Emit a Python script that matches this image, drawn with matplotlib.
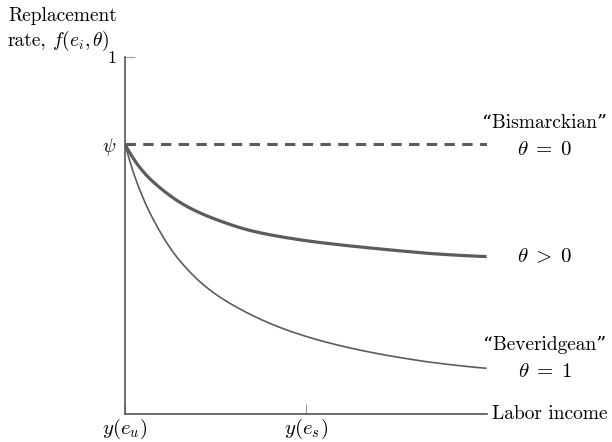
import matplotlib
matplotlib.use("Agg")
import matplotlib.pyplot as plt
import numpy as np

plt.rcParams['mathtext.fontset'] = 'cm'
plt.rcParams['font.family'] = ['cmr10', 'DejaVu Serif']
plt.rcParams['axes.unicode_minus'] = False

# Data (normalized labor income on x, replacement rate on y)
psi = 0.755
bism_x = [0.0, 1.0]
bism_y = [psi, psi]

mid_x = [0.0, 0.039, 0.078, 0.170, 0.262, 0.354, 0.483, 0.575, 0.668, 0.760, 0.851, 0.999]
mid_y = [0.755, 0.693, 0.650, 0.582, 0.541, 0.512, 0.488, 0.476, 0.466, 0.457, 0.449, 0.441]

bev_x = [0.0, 0.032, 0.078, 0.146, 0.235, 0.327, 0.419, 0.511, 0.576, 0.668, 0.760, 0.852, 0.999]
bev_y = [0.755, 0.651, 0.545, 0.436, 0.347, 0.289, 0.246, 0.214, 0.196, 0.175, 0.158, 0.144, 0.128]

ytick_vals = [psi, 1.0]
ytick_labels = [r'$\psi$', '1']
xtick_vals = [0.0, 0.5]
xtick_labels = [r'$y(e_u)$', r'$y(e_s)$']


def pchip(x, y, n=400):
    """Monotone cubic (Fritsch-Carlson) curve through the read points, for smooth drawing."""
    x = np.asarray(x, float)
    y = np.asarray(y, float)
    h = np.diff(x)
    d = np.diff(y) / h
    m = np.zeros_like(y)
    for k in range(1, len(x) - 1):
        if d[k - 1] * d[k] > 0:
            w1 = 2 * h[k] + h[k - 1]
            w2 = h[k] + 2 * h[k - 1]
            m[k] = (w1 + w2) / (w1 / d[k - 1] + w2 / d[k])
    m[0] = ((2 * h[0] + h[1]) * d[0] - h[0] * d[1]) / (h[0] + h[1])
    if np.sign(m[0]) != np.sign(d[0]):
        m[0] = 0
    m[-1] = ((2 * h[-1] + h[-2]) * d[-1] - h[-1] * d[-2]) / (h[-1] + h[-2])
    if np.sign(m[-1]) != np.sign(d[-1]):
        m[-1] = 0
    xs = np.linspace(x[0], x[-1], n)
    idx = np.clip(np.searchsorted(x, xs) - 1, 0, len(x) - 2)
    t = (xs - x[idx]) / h[idx]
    h00 = 2 * t**3 - 3 * t**2 + 1
    h10 = t**3 - 2 * t**2 + t
    h01 = -2 * t**3 + 3 * t**2
    h11 = t**3 - t**2
    ys = h00 * y[idx] + h10 * h[idx] * m[idx] + h01 * y[idx + 1] + h11 * h[idx] * m[idx + 1]
    return xs, ys


W, H = 612, 442
fig = plt.figure(figsize=(W / 100, H / 100), dpi=100)
ax = fig.add_axes([125 / W, 1 - 414 / H, 362 / W, 357 / H])
ax.set_xlim(0, 1)
ax.set_ylim(0, 1)

col = '#5c5c5c'
ax.plot(bism_x, bism_y, color=col, lw=2.2, dashes=(3.4, 2.4), solid_capstyle='butt')
mx, my = pchip(mid_x, mid_y)
ax.plot(mx, my, color=col, lw=2.3, solid_capstyle='butt')
bx, by = pchip(bev_x, bev_y)
ax.plot(bx, by, color=col, lw=1.2, solid_capstyle='butt')

for s in ['top', 'right']:
    ax.spines[s].set_visible(False)
for s in ['left', 'bottom']:
    ax.spines[s].set_color('#555555')
    ax.spines[s].set_linewidth(1.2)

ax.set_yticks(ytick_vals)
ax.set_yticklabels(ytick_labels)
ylabs = ax.get_yticklabels()
ylabs[0].set_fontsize(14)
ylabs[1].set_fontsize(13)
ax.set_xticks(xtick_vals)
ax.set_xticklabels(xtick_labels, fontsize=15)
ax.tick_params(axis='both', direction='in', length=7, width=0.8, color='#999999')
ax.tick_params(axis='x', pad=2)
ax.tick_params(axis='y', pad=6)

fig.text(8 / W, 1 - 16 / H, 'Replacement', fontsize=14, ha='left', va='center')
fig.text(8 / W, 1 - 41 / H, 'rate,', fontsize=14, ha='left', va='center')
fig.text(52 / W, 1 - 41 / H, r'$f(e_i,\theta)$', fontsize=14, ha='left', va='center')

fig.text(492 / W, 1 - 414 / H, 'Labor income', fontsize=14, ha='left', va='center')
fig.text(545 / W, 1 - 123 / H, '\u201cBismarckian\u201d', fontsize=14, ha='center', va='center')
fig.text(545 / W, 1 - 150 / H, r'$\theta\;=\;0$', fontsize=15, ha='center', va='center')
fig.text(545 / W, 1 - 257 / H, r'$\theta\;>\;0$', fontsize=15, ha='center', va='center')
fig.text(545 / W, 1 - 345 / H, '\u201cBeveridgean\u201d', fontsize=14, ha='center', va='center')
fig.text(545 / W, 1 - 372 / H, r'$\theta\;=\;1$', fontsize=15, ha='center', va='center')

fig.savefig('out.png', dpi=100)
